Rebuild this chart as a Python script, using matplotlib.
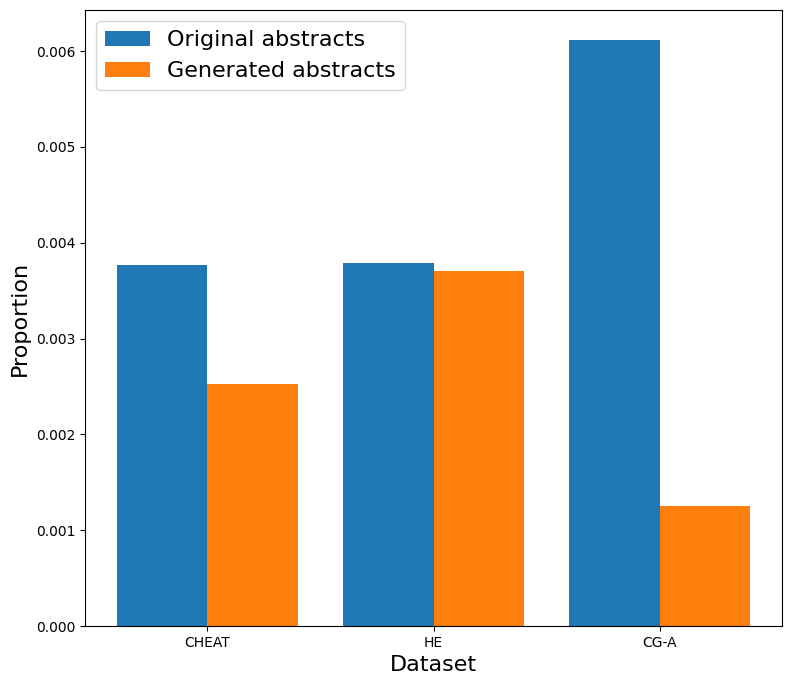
import matplotlib.pyplot as plt
import numpy as np

datasets = ["CHEAT", "HE", "CG-A"]
original = [0.00377, 0.00379, 0.00612]
generated = [0.00253, 0.00371, 0.00125]

x = np.arange(len(datasets))
width = 0.4

fig, ax = plt.subplots(figsize=(7.92, 6.85), dpi=100)
ax.bar(x - width / 2, original, width, label="Original abstracts")
ax.bar(x + width / 2, generated, width, label="Generated abstracts")

ax.set_xticks(x)
ax.set_xticklabels(datasets)
ax.set_xlabel("Dataset", fontsize=16)
ax.set_ylabel("Proportion", fontsize=16)
ax.legend(fontsize=16, loc="upper left")

fig.subplots_adjust(left=0.1075, right=0.9875, top=0.985, bottom=0.086)
fig.savefig("out.png", dpi=100)
